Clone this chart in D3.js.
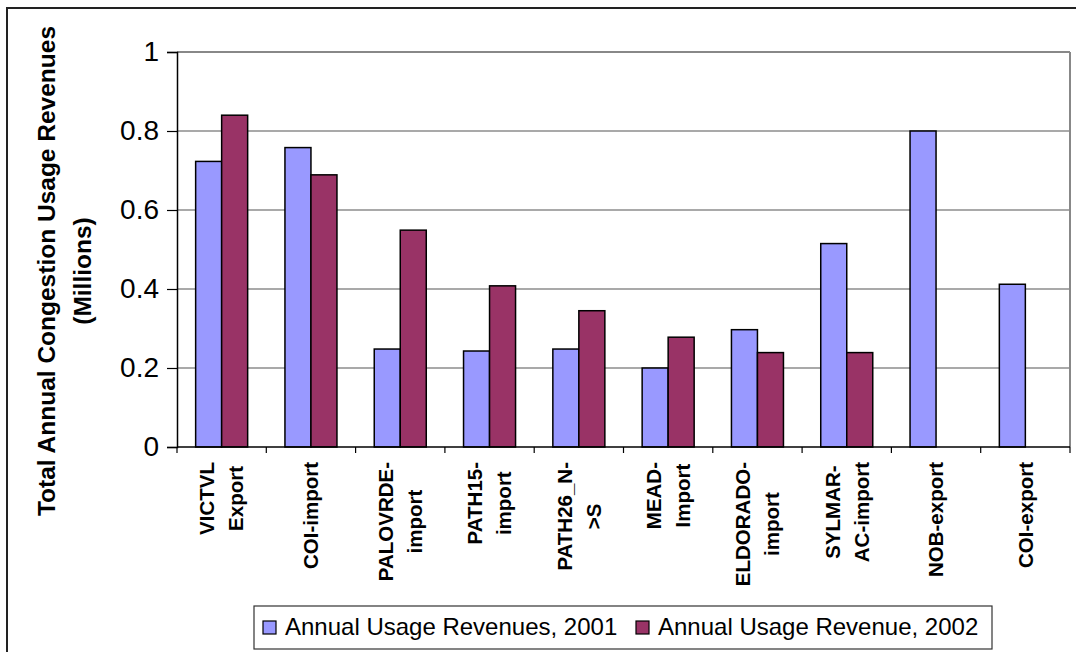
<!DOCTYPE html>
<html>
<head>
<meta charset="utf-8">
<script src="https://cdn.jsdelivr.net/npm/d3@7"></script>
<style>
  html, body { margin: 0; padding: 0; background: #fff; }
  svg { display: block; font-family: "Liberation Sans", Arial, sans-serif; }
</style>
</head>
<body>
<svg id="chart" width="1076" height="652"></svg>
<script>
// Congestion usage revenues by interface, in millions
const categories = [
  ["VICTVL", "Export"],
  ["COI-import"],
  ["PALOVRDE-", "import"],
  ["PATH15-", "import"],
  ["PATH26_N-", ">S"],
  ["MEAD-", "Import"],
  ["ELDORADO-", "import"],
  ["SYLMAR-", "AC-import"],
  ["NOB-export"],
  ["COI-export"]
];
const seriesNames = ["Annual Usage Revenues, 2001", "Annual Usage Revenue, 2002"];
const revenue2001 = [0.723, 0.758, 0.248, 0.243, 0.248, 0.200, 0.297, 0.515, 0.800, 0.412];
const revenue2002 = [0.840, 0.689, 0.549, 0.408, 0.345, 0.278, 0.239, 0.239, null, null];
const yTicks = [0, 0.2, 0.4, 0.6, 0.8, 1];
const seriesColors = ["#9999FF", "#993366"];

const svg = d3.select("#chart");
const plot = { left: 177, top: 52, right: 1070, bottom: 447 };

// Outer chart frame
svg.append("rect")
  .attr("x", 7).attr("y", 8).attr("width", 1200).attr("height", 800)
  .attr("fill", "none").attr("stroke", "#222").attr("stroke-width", 2);

const catKeys = categories.map(c => c.join(" "));
const x0 = d3.scaleBand().domain(catKeys).range([plot.left, plot.right]).padding(0);
const x1 = d3.scaleBand().domain(seriesNames).range([0, x0.bandwidth()])
  .paddingInner(0).paddingOuter(0.717);
const y = d3.scaleLinear().domain([0, 1]).range([plot.bottom, plot.top]);

// Gridlines
svg.append("g").selectAll("line")
  .data(yTicks.filter(t => t > 0))
  .join("line")
  .attr("x1", plot.left).attr("x2", plot.right)
  .attr("y1", d => y(d)).attr("y2", d => y(d))
  .attr("stroke", d => d === 1 ? "#888" : "#555")
  .attr("stroke-width", d => d === 1 ? 2 : 1.2);

// Right border of the plot area
svg.append("line")
  .attr("x1", plot.right).attr("x2", plot.right)
  .attr("y1", plot.top).attr("y2", plot.bottom)
  .attr("stroke", "#888").attr("stroke-width", 2);

// Bars
const rows = catKeys.map((k, i) => ({ key: k, values: [revenue2001[i], revenue2002[i]] }));
const groups = svg.append("g").selectAll("g")
  .data(rows).join("g")
  .attr("transform", d => `translate(${x0(d.key)},0)`);
groups.selectAll("rect")
  .data(d => d.values.map((v, j) => ({ name: seriesNames[j], v, j })).filter(e => e.v != null))
  .join("rect")
  .attr("x", d => x1(d.name))
  .attr("width", x1.bandwidth())
  .attr("y", d => y(d.v))
  .attr("height", d => y(0) - y(d.v))
  .attr("fill", d => seriesColors[d.j])
  .attr("stroke", "#000").attr("stroke-width", 1.5);

// Y axis
const yAxis = d3.axisLeft(y).tickValues(yTicks).tickSize(10).tickPadding(8)
  .tickFormat(d => d3.format("")(+d.toFixed(1)));
const yg = svg.append("g").attr("transform", `translate(${plot.left},0)`).call(yAxis);
yg.select(".domain").attr("stroke", "#000").attr("stroke-width", 1.5);
yg.selectAll(".tick line").attr("stroke", "#000").attr("stroke-width", 1.2);
yg.selectAll(".tick text")
  .attr("font-size", 28).attr("fill", "#000")
  .attr("font-family", "Liberation Sans, Arial, sans-serif");

// X axis with tick marks between categories
const xg = svg.append("g");
xg.append("line")
  .attr("x1", plot.left).attr("x2", plot.right)
  .attr("y1", plot.bottom).attr("y2", plot.bottom)
  .attr("stroke", "#000").attr("stroke-width", 1.5);
xg.selectAll("line.tk")
  .data(catKeys.map(k => x0(k)).concat([plot.right]))
  .join("line").attr("class", "tk")
  .attr("x1", d => d).attr("x2", d => d)
  .attr("y1", plot.bottom).attr("y2", plot.bottom + 6)
  .attr("stroke", "#000").attr("stroke-width", 1.2);

// Rotated category labels
const labelTop = 462;
const lineGap = 29;
categories.forEach((lines, i) => {
  const cx = x0(catKeys[i]) + x0.bandwidth() / 2;
  const g = svg.append("g");
  const texts = lines.map((t, j) => g.append("text")
    .text(t)
    .attr("font-size", 20.5).attr("font-weight", "bold")
    .attr("text-anchor", "middle").attr("fill", "#000"));
  const maxLen = d3.max(texts, t => t.node().getComputedTextLength());
  const cy = labelTop + maxLen / 2;
  const n = lines.length;
  texts.forEach((t, j) => {
    // baseline offset so the cap height is centred on the column
    const bx = cx + (j - (n - 1) / 2) * lineGap + 7.3;
    t.attr("transform", `translate(${bx},${cy}) rotate(-90)`);
  });
});

// Y axis title
const titleLines = ["Total Annual Congestion Usage Revenues", "(Millions)"];
const titleCy = 271;
titleLines.forEach((t, j) => {
  svg.append("text")
    .text(t)
    .attr("font-size", 24.5).attr("font-weight", "bold")
    .attr("text-anchor", "middle").attr("fill", "#000")
    .attr("transform", `translate(${55 + j * 36},${titleCy}) rotate(-90)`);
});

// Legend
const legend = svg.append("g");
legend.append("rect")
  .attr("x", 254).attr("y", 606).attr("width", 738).attr("height", 43)
  .attr("fill", "#fff").attr("stroke", "#333").attr("stroke-width", 1.2);
const legendX = [263, 636];
seriesNames.forEach((name, j) => {
  legend.append("rect")
    .attr("x", legendX[j]).attr("y", 621).attr("width", 13).attr("height", 13)
    .attr("fill", seriesColors[j]).attr("stroke", "#000").attr("stroke-width", 1.2);
  legend.append("text")
    .text(name)
    .attr("x", legendX[j] + 22).attr("y", 635)
    .attr("font-size", 24).attr("fill", "#000");
});
</script>
</body>
</html>
